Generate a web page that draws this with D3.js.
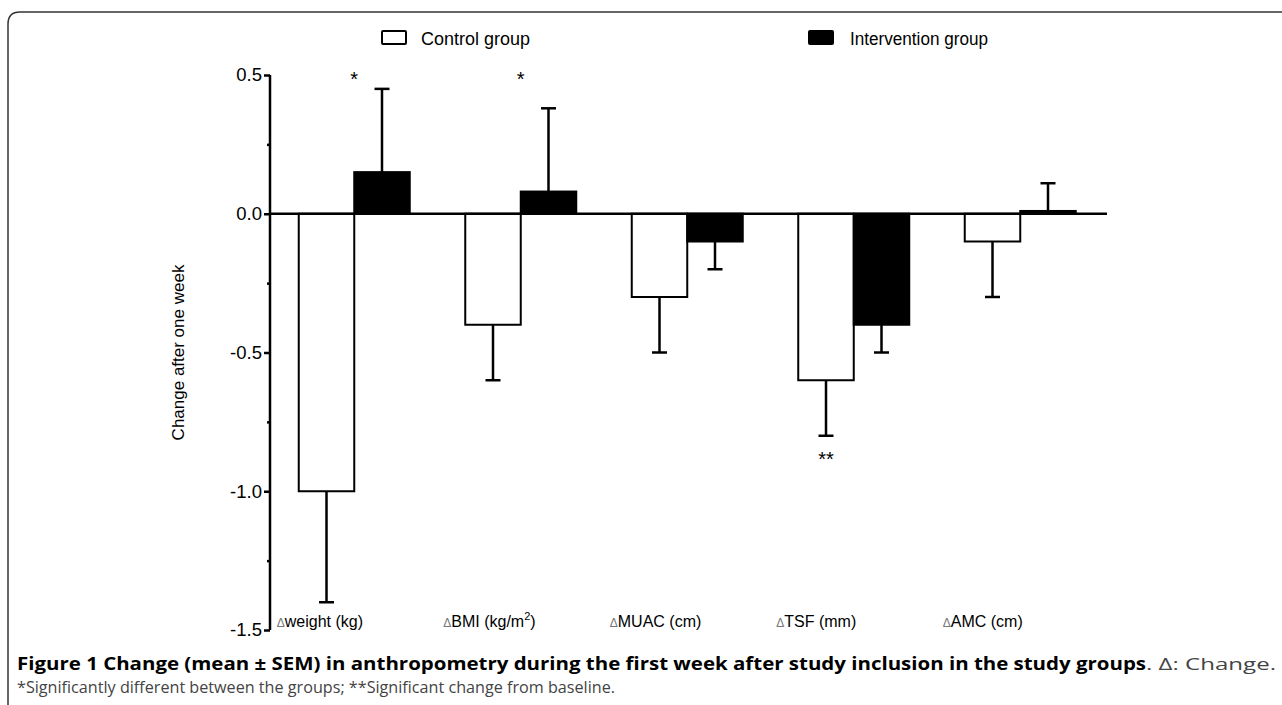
<!DOCTYPE html>
<html>
<head>
<meta charset="utf-8">
<script src="https://cdn.jsdelivr.net/npm/d3@7"></script>
<style>
  html, body { margin: 0; padding: 0; background: #fff; }
  svg { display: block; }
</style>
</head>
<body>
<svg id="chart" width="1282" height="705"></svg>
<script>
// ---- data ----
const categories = ["weight (kg)", "BMI (kg/m2)", "MUAC (cm)", "TSF (mm)", "AMC (cm)"];
const seriesNames = ["Control group", "Intervention group"];
const controlValues = [-1.0, -0.4, -0.3, -0.6, -0.1];
const controlSEM = [0.4, 0.2, 0.2, 0.2, 0.2];
const interventionValues = [0.15, 0.08, -0.1, -0.4, 0.01];
const interventionSEM = [0.3, 0.3, 0.1, 0.1, 0.1];
const yTicks = [0.5, 0.0, -0.5, -1.0, -1.5];
const yMinorTicks = [0.25, -0.25, -0.75, -1.25];
// [category, text, anchor ("g" = group centre, "c" = control bar), y value]
const annotations = [["weight (kg)", "*", "g", 0.5], ["BMI (kg/m2)", "*", "g", 0.5], ["TSF (mm)", "**", "c", -0.87]];

const svg = d3.select("#chart");
const FONT = "'Liberation Sans', Arial, sans-serif";

// frame
svg.append("path")
  .attr("d", "M8,720 L8,24 Q8,12 20,12 L1300,12")
  .attr("fill", "none").attr("stroke", "#333").attr("stroke-width", 1.5);

// scales
const y = d3.scaleLinear().domain([-1.5, 0.5]).range([630, 75]);
const x = d3.scaleBand().domain(categories).range([271, 1103.5])
  .paddingInner(1/3).paddingOuter(1/6);
const xs = d3.scaleBand().domain(["c", "i"]).range([0, x.bandwidth()]);

const rows = categories.map((c, i) => ({
  cat: c,
  bars: [
    { key: "c", v: controlValues[i], e: controlSEM[i] },
    { key: "i", v: interventionValues[i], e: interventionSEM[i] }
  ]
}));

const g = svg.append("g");

// error bars
rows.forEach(r => {
  r.bars.forEach(b => {
    const cx = x(r.cat) + xs(b.key) + xs.bandwidth() / 2;
    const end = b.v >= 0 ? b.v + b.e : b.v - b.e;
    g.append("line").attr("x1", cx).attr("x2", cx)
      .attr("y1", y(b.v)).attr("y2", y(end))
      .attr("stroke", "#000").attr("stroke-width", 2.5);
    g.append("line").attr("x1", cx - 7.5).attr("x2", cx + 7.5)
      .attr("y1", y(end)).attr("y2", y(end))
      .attr("stroke", "#000").attr("stroke-width", 2.5);
  });
});

// bars
rows.forEach(r => {
  r.bars.forEach(b => {
    const x0 = x(r.cat) + xs(b.key);
    g.append("rect")
      .attr("x", x0).attr("width", xs.bandwidth())
      .attr("y", Math.min(y(b.v), y(0)))
      .attr("height", Math.abs(y(b.v) - y(0)))
      .attr("fill", b.key === "c" ? "#fff" : "#000")
      .attr("stroke", "#000").attr("stroke-width", 2);
  });
});

// zero line
g.append("line").attr("x1", 270).attr("x2", 1107)
  .attr("y1", y(0)).attr("y2", y(0))
  .attr("stroke", "#000").attr("stroke-width", 2.5);

// y axis
const yAxis = d3.axisLeft(y).tickValues(yTicks).tickSize(6).tickPadding(2);
const ya = svg.append("g").attr("transform", "translate(270,0)").call(yAxis);
ya.select(".domain").attr("stroke-width", 2.5).attr("d", `M0,${y(0.5)}V${y(-1.5)}`);
ya.selectAll(".tick line").attr("stroke-width", 2.5);
ya.selectAll(".tick text").attr("font-family", FONT).attr("font-size", 18.5).attr("fill", "#000")
  .text(d => d3.format(".1f")(d).replace("\u2212", "-"));
const yMinor = d3.axisLeft(y).tickValues(yMinorTicks).tickSize(3).tickFormat("");
const ym = svg.append("g").attr("transform", "translate(270,0)").call(yMinor);
ym.select(".domain").remove();
ym.selectAll(".tick line").attr("stroke-width", 2.5);

// y label
svg.append("text")
  .attr("transform", `translate(184,${y(-0.5)}) rotate(-90)`)
  .attr("text-anchor", "middle")
  .attr("font-family", FONT).attr("font-size", 17).attr("fill", "#000")
  .text("Change after one week");

// category labels
categories.forEach(c => {
  const t = svg.append("text")
    .attr("x", x(c) - 22).attr("y", 627)
    .attr("text-anchor", "start")
    .attr("font-family", FONT).attr("font-size", 16).attr("fill", "#000");
  t.append("tspan").attr("font-size", 12).attr("fill", "#777").text("\u0394");
  const m = c.match(/^(.*)2\)$/);
  if (m) {
    t.append("tspan").text(m[1]);
    t.append("tspan").attr("font-size", 11).attr("dy", -7).text("2");
    t.append("tspan").attr("dy", 7).text(")");
  } else {
    t.append("tspan").text(c);
  }
});

// annotations
annotations.forEach(a => {
  const cx = a[2] === "g" ? x(a[0]) + x.bandwidth() / 2 : x(a[0]) + xs("c") + xs.bandwidth() / 2;
  svg.append("text")
    .attr("x", cx).attr("y", y(a[3]) + 11)
    .attr("text-anchor", "middle")
    .attr("font-family", FONT).attr("font-size", 20).attr("fill", "#000")
    .text(a[1]);
});

// legend
const legend = [
  { name: seriesNames[0], fill: "#fff", bx: 382, tx: 421 },
  { name: seriesNames[1], fill: "#000", bx: 809, tx: 850 }
];
legend.forEach(l => {
  svg.append("rect").attr("x", l.bx).attr("y", 31).attr("width", 24).attr("height", 13)
    .attr("fill", l.fill).attr("stroke", "#000").attr("stroke-width", 2).attr("rx", 1);
  svg.append("text").attr("x", l.tx).attr("y", 44.5)
    .attr("font-family", FONT).attr("font-size", 18).attr("fill", "#000")
    .attr("textLength", l.fill === "#000" ? 138 : 109).attr("lengthAdjust", "spacingAndGlyphs")
    .text(l.name);
});

// caption
const CAPFONT = "'Open Sans', sans-serif";
svg.append("text").attr("x", 17).attr("y", 670)
  .attr("font-family", CAPFONT).attr("font-size", 17).attr("font-weight", "bold").attr("fill", "#000")
  .attr("textLength", 1129).attr("lengthAdjust", "spacingAndGlyphs")
  .text("Figure 1 Change (mean \u00b1 SEM) in anthropometry during the first week after study inclusion in the study groups");
svg.append("text").attr("x", 1146).attr("y", 670)
  .attr("font-family", CAPFONT).attr("font-size", 17).attr("fill", "#444")
  .attr("textLength", 130).attr("lengthAdjust", "spacingAndGlyphs")
  .text(". \u0394: Change.");
svg.append("text").attr("x", 17).attr("y", 693)
  .attr("font-family", CAPFONT).attr("font-size", 16.5).attr("fill", "#444")
  .attr("textLength", 598).attr("lengthAdjust", "spacingAndGlyphs")
  .text("*Significantly different between the groups; **Significant change from baseline.");
</script>
</body>
</html>
